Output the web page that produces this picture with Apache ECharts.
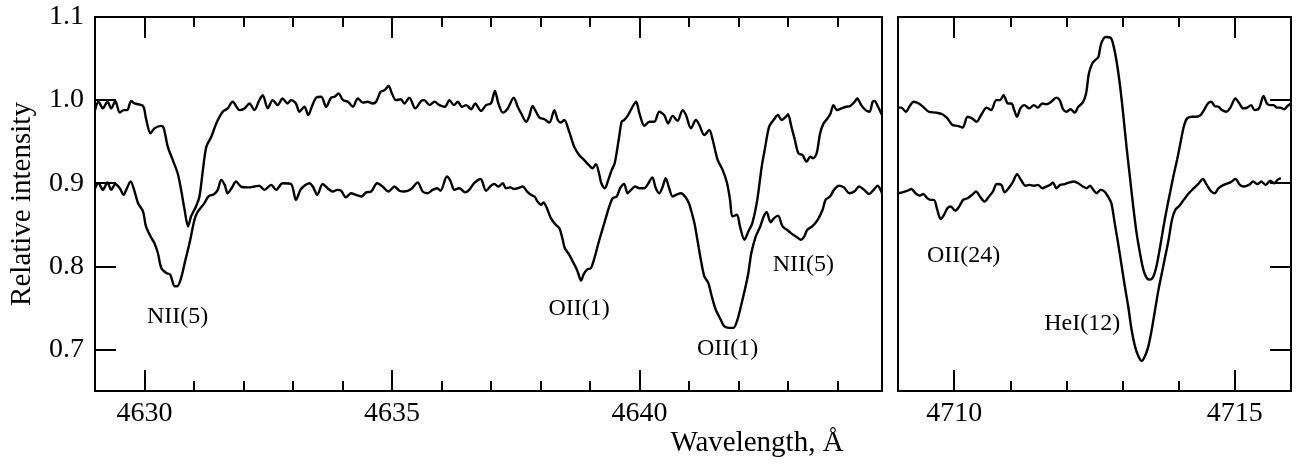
<!DOCTYPE html>
<html><head><meta charset="utf-8">
<script src="https://cdn.jsdelivr.net/npm/echarts@6/dist/echarts.min.js"></script>
<style>html,body{margin:0;padding:0;background:#fff}#c{width:1303px;height:468px}</style>
</head><body><div id="c"></div>
<script>
// ---- data ----
const leftUpper = [
[4629.00,0.988],[4629.07,0.998],[4629.16,0.990],[4629.25,0.998],[4629.33,0.990],[4629.41,0.999],[4629.50,0.985],[4629.58,0.988],[4629.65,0.988],[4629.73,0.999],[4629.80,0.996],[4629.97,0.993],[4630.03,0.978],[4630.12,0.960],[4630.20,0.966],[4630.34,0.969],[4630.39,0.966],[4630.47,0.944],[4630.57,0.928],[4630.67,0.912],[4630.74,0.892],[4630.81,0.868],[4630.88,0.848],[4630.94,0.860],[4631.04,0.872],[4631.11,0.884],[4631.18,0.916],[4631.25,0.944],[4631.35,0.956],[4631.45,0.972],[4631.58,0.986],[4631.68,0.990],[4631.78,0.998],[4631.92,0.988],[4632.02,0.990],[4632.12,0.996],[4632.22,0.988],[4632.32,1.000],[4632.39,1.006],[4632.49,0.990],[4632.59,1.000],[4632.69,0.994],[4632.79,1.002],[4632.89,0.996],
[4632.96,1.000],[4633.06,0.996],[4633.13,0.986],[4633.23,0.992],[4633.31,0.982],[4633.38,0.992],[4633.47,1.003],[4633.57,1.004],[4633.67,0.992],[4633.77,1.003],[4633.84,1.004],[4633.92,1.008],[4634.01,1.000],[4634.11,0.998],[4634.21,0.992],[4634.31,1.002],[4634.41,0.997],[4634.51,0.998],[4634.61,0.996],[4634.68,0.998],[4634.77,1.010],[4634.85,1.012],[4634.93,1.017],[4635.00,1.008],[4635.08,1.000],[4635.18,1.001],[4635.25,0.996],[4635.35,1.003],[4635.47,0.990],[4635.59,0.999],[4635.65,1.000],[4635.76,0.994],[4635.86,0.998],[4635.96,0.994],[4636.07,0.992],[4636.16,1.000],[4636.25,0.994],[4636.33,0.998],[4636.41,0.992],[4636.50,0.994],[4636.60,0.989],[4636.68,0.996],[4636.80,0.987],[4636.90,0.994],
[4637.00,0.996],[4637.08,1.011],[4637.15,0.996],[4637.24,0.985],[4637.34,0.990],[4637.46,1.003],[4637.54,0.992],[4637.61,0.984],[4637.71,0.974],[4637.77,0.980],[4637.84,0.993],[4637.91,0.986],[4637.98,0.979],[4638.08,0.977],[4638.18,0.973],[4638.28,0.988],[4638.35,0.976],[4638.41,0.973],[4638.48,0.976],[4638.58,0.962],[4638.68,0.944],[4638.78,0.934],[4638.88,0.928],[4638.99,0.921],[4639.05,0.918],[4639.12,0.923],[4639.19,0.910],[4639.23,0.900],[4639.30,0.894],[4639.37,0.904],[4639.44,0.916],[4639.50,0.924],[4639.59,0.956],[4639.64,0.974],[4639.69,0.976],[4639.77,0.982],[4639.86,0.992],[4639.93,0.998],[4640.00,0.984],[4640.10,0.969],[4640.20,0.974],[4640.30,0.974],[4640.40,0.986],[4640.50,0.982],[4640.58,0.972],[4640.67,0.981],[4640.77,0.975],[4640.87,0.988],[4640.94,0.982],
[4641.04,0.966],[4641.14,0.976],[4641.21,0.970],[4641.31,0.958],[4641.41,0.964],[4641.48,0.952],[4641.58,0.928],[4641.68,0.916],[4641.77,0.900],[4641.83,0.880],[4641.88,0.860],[4641.97,0.862],[4642.03,0.848],[4642.12,0.832],[4642.20,0.842],[4642.28,0.852],[4642.38,0.880],[4642.47,0.920],[4642.53,0.940],[4642.62,0.968],[4642.71,0.976],[4642.80,0.982],[4642.87,0.976],[4642.96,0.980],[4643.00,0.983],[4643.07,0.968],[4643.14,0.952],[4643.21,0.936],[4643.29,0.934],[4643.38,0.926],[4643.45,0.932],[4643.51,0.930],[4643.58,0.936],[4643.65,0.960],[4643.72,0.972],[4643.80,0.978],[4643.86,0.984],[4643.92,0.994],[4643.99,0.988],[4644.08,0.990],[4644.17,0.992],[4644.26,0.993],[4644.35,0.998],[4644.40,1.002],[4644.48,0.994],[4644.57,0.988],[4644.65,0.986],[4644.71,0.998],[4644.75,0.999],[4644.82,0.992],[4644.90,0.982]
];
const leftLower = [
[4629.00,0.894],[4629.07,0.900],[4629.16,0.892],[4629.25,0.901],[4629.33,0.892],[4629.41,0.899],[4629.50,0.894],[4629.58,0.886],[4629.63,0.892],[4629.72,0.902],[4629.79,0.892],[4629.87,0.876],[4629.97,0.866],[4630.03,0.848],[4630.14,0.834],[4630.20,0.828],[4630.27,0.816],[4630.34,0.798],[4630.44,0.792],[4630.52,0.790],[4630.61,0.776],[4630.66,0.776],[4630.74,0.786],[4630.82,0.806],[4630.91,0.828],[4631.01,0.856],[4631.08,0.866],[4631.21,0.876],[4631.29,0.884],[4631.41,0.887],[4631.48,0.892],[4631.55,0.904],[4631.62,0.898],[4631.68,0.888],[4631.76,0.894],[4631.85,0.902],[4631.95,0.896],[4632.09,0.895],[4632.22,0.896],[4632.32,0.897],[4632.42,0.892],[4632.56,0.898],[4632.66,0.892],[4632.79,0.900],
[4632.96,0.899],[4633.06,0.880],[4633.15,0.892],[4633.23,0.897],[4633.33,0.900],[4633.40,0.896],[4633.49,0.886],[4633.60,0.899],[4633.70,0.894],[4633.80,0.890],[4633.90,0.892],[4633.97,0.891],[4634.07,0.883],[4634.17,0.888],[4634.27,0.886],[4634.38,0.884],[4634.48,0.889],[4634.58,0.890],[4634.70,0.900],[4634.81,0.896],[4634.93,0.890],[4635.05,0.896],[4635.15,0.891],[4635.25,0.890],[4635.39,0.893],[4635.52,0.901],[4635.62,0.890],[4635.72,0.888],[4635.82,0.892],[4635.91,0.894],[4635.98,0.891],[4636.11,0.908],[4636.18,0.903],[4636.26,0.892],[4636.36,0.894],[4636.48,0.889],[4636.56,0.892],[4636.66,0.900],[4636.79,0.905],[4636.90,0.891],
[4637.00,0.897],[4637.07,0.899],[4637.15,0.896],[4637.24,0.900],[4637.30,0.894],[4637.39,0.895],[4637.47,0.893],[4637.55,0.894],[4637.64,0.896],[4637.73,0.890],[4637.81,0.886],[4637.88,0.884],[4637.94,0.878],[4638.01,0.874],[4638.06,0.877],[4638.13,0.870],[4638.21,0.858],[4638.31,0.850],[4638.38,0.846],[4638.45,0.832],[4638.49,0.822],[4638.58,0.814],[4638.65,0.806],[4638.72,0.798],[4638.76,0.792],[4638.82,0.783],[4638.87,0.790],[4638.94,0.796],[4639.02,0.798],[4639.10,0.812],[4639.19,0.832],[4639.29,0.852],[4639.39,0.872],[4639.46,0.882],[4639.54,0.884],[4639.61,0.894],[4639.69,0.899],[4639.76,0.888],[4639.83,0.892],[4639.91,0.896],[4640.00,0.894],[4640.10,0.894],[4640.16,0.898],[4640.26,0.907],[4640.33,0.894],[4640.40,0.888],[4640.47,0.896],[4640.53,0.906],[4640.60,0.894],[4640.67,0.884],[4640.74,0.886],[4640.84,0.888],[4640.92,0.884],[4641.00,0.876],
[4641.04,0.868],[4641.11,0.852],[4641.17,0.832],[4641.24,0.808],[4641.31,0.788],[4641.39,0.780],[4641.46,0.764],[4641.54,0.748],[4641.64,0.736],[4641.71,0.728],[4641.81,0.726],[4641.90,0.726],[4641.98,0.736],[4642.05,0.752],[4642.13,0.772],[4642.20,0.792],[4642.26,0.816],[4642.35,0.836],[4642.44,0.848],[4642.51,0.860],[4642.57,0.865],[4642.65,0.853],[4642.72,0.858],[4642.80,0.861],[4642.89,0.848],[4642.98,0.844],[4643.06,0.840],[4643.16,0.836],[4643.26,0.832],[4643.33,0.836],[4643.39,0.844],[4643.49,0.848],[4643.60,0.856],[4643.70,0.868],[4643.76,0.880],[4643.85,0.884],[4643.93,0.892],[4644.03,0.897],[4644.13,0.895],[4644.24,0.888],[4644.34,0.890],[4644.44,0.896],[4644.54,0.892],[4644.64,0.887],[4644.73,0.892],[4644.81,0.897],[4644.90,0.888]
];
const rightUpper = [
[4709.00,0.991],[4709.06,0.991],[4709.14,0.986],[4709.21,0.993],[4709.28,0.998],[4709.37,0.996],[4709.46,0.991],[4709.55,0.986],[4709.67,0.985],[4709.79,0.983],[4709.88,0.978],[4709.97,0.970],[4710.06,0.969],[4710.15,0.967],[4710.24,0.980],[4710.32,0.978],[4710.40,0.974],[4710.48,0.982],[4710.58,0.991],[4710.66,0.988],[4710.75,1.000],[4710.82,1.000],[4710.88,1.006],[4710.96,0.996],[4711.02,0.996],[4711.07,0.988],[4711.12,0.980],[4711.18,0.990],[4711.25,0.994],[4711.34,0.990],[4711.42,0.994],[4711.49,0.991],[4711.57,0.996],[4711.64,0.995],[4711.73,0.998],[4711.82,1.003],[4711.88,1.000],[4711.94,0.989],[4712.00,0.986],[4712.07,0.989],[4712.15,0.985],[4712.21,0.992],[4712.29,0.997],[4712.35,1.008],[4712.40,1.032],
[4712.46,1.044],[4712.51,1.048],[4712.57,1.052],[4712.61,1.066],[4712.66,1.074],[4712.71,1.076],[4712.79,1.075],[4712.83,1.068],[4712.89,1.048],[4712.95,1.020],[4713.01,0.984],[4713.07,0.944],[4713.13,0.908],[4713.19,0.872],[4713.25,0.840],[4713.31,0.816],[4713.37,0.796],[4713.43,0.786],[4713.49,0.784],[4713.55,0.788],[4713.61,0.802],[4713.67,0.824],[4713.73,0.848],[4713.79,0.870],[4713.85,0.890],[4713.91,0.910],[4713.97,0.928],[4714.03,0.948],[4714.09,0.968],[4714.15,0.978],[4714.24,0.980],[4714.31,0.980],[4714.39,0.982],[4714.45,0.988],[4714.52,0.996],[4714.58,0.998],[4714.64,0.993],[4714.71,0.992],[4714.77,0.988],[4714.85,0.986],[4714.92,0.991],[4715.01,1.002],[4715.07,0.997],[4715.15,0.990],[4715.22,0.991],[4715.29,0.994],[4715.35,0.988],[4715.43,0.990],[4715.51,1.005],[4715.57,0.996],[4715.63,0.994],[4715.69,0.994],[4715.75,0.991],[4715.81,0.991],[4715.88,0.989],[4715.94,0.993],[4716.00,0.996]
];
const rightLower = [
[4709.00,0.888],[4709.08,0.889],[4709.17,0.891],[4709.24,0.893],[4709.31,0.888],[4709.39,0.885],[4709.45,0.887],[4709.52,0.882],[4709.58,0.880],[4709.64,0.880],[4709.70,0.868],[4709.76,0.857],[4709.82,0.862],[4709.88,0.870],[4709.94,0.872],[4710.02,0.867],[4710.09,0.872],[4710.16,0.880],[4710.24,0.882],[4710.32,0.886],[4710.39,0.890],[4710.46,0.884],[4710.54,0.878],[4710.62,0.884],[4710.69,0.890],[4710.76,0.899],[4710.84,0.898],[4710.90,0.889],[4710.97,0.894],[4711.05,0.902],[4711.12,0.911],[4711.19,0.904],[4711.27,0.897],[4711.34,0.898],[4711.42,0.897],[4711.49,0.898],[4711.57,0.894],[4711.64,0.896],[4711.71,0.898],[4711.76,0.901],[4711.82,0.894],[4711.89,0.898],[4711.97,0.899],[4712.06,0.901],[4712.13,0.902],[4712.21,0.900],[4712.29,0.896],[4712.36,0.894],[4712.42,0.897],
[4712.48,0.892],[4712.54,0.888],[4712.61,0.892],[4712.68,0.890],[4712.74,0.884],[4712.80,0.876],[4712.86,0.852],[4712.92,0.828],[4712.98,0.802],[4713.04,0.776],[4713.10,0.752],[4713.16,0.724],[4713.22,0.704],[4713.28,0.692],[4713.34,0.686],[4713.40,0.692],[4713.46,0.704],[4713.52,0.724],[4713.58,0.748],[4713.64,0.772],[4713.70,0.792],[4713.76,0.812],[4713.82,0.832],[4713.88,0.856],[4713.94,0.868],[4714.00,0.872],[4714.09,0.880],[4714.18,0.888],[4714.27,0.894],[4714.36,0.900],[4714.43,0.905],[4714.50,0.898],[4714.58,0.890],[4714.64,0.888],[4714.71,0.894],[4714.80,0.898],[4714.92,0.901],[4715.01,0.905],[4715.09,0.898],[4715.16,0.896],[4715.25,0.898],[4715.33,0.902],[4715.40,0.899],[4715.47,0.902],[4715.55,0.898],[4715.63,0.903],[4715.70,0.900],[4715.76,0.904],[4715.82,0.906]
];
const leftMajorTicks = [4630, 4635, 4640];
const leftMinorTicks = [4629,4630,4631,4632,4633,4634,4635,4636,4637,4638,4639,4640,4641,4642,4643,4644];
const rightMajorTicks = [4710, 4715];
const rightMinorTicks = [4709,4710,4711,4712,4713,4714,4715,4716];
const yTickValues = [0.7, 0.8, 0.9, 1.0, 1.1];
const yRightTicks = [0.7, 0.8, 0.9, 1.0];
const leftNotes = [
  {name:'NII(5)', value:[4630.67, 0.739]},
  {name:'OII(1)', value:[4638.78, 0.749]},
  {name:'OII(1)', value:[4641.78, 0.701]},
  {name:'NII(5)', value:[4643.31, 0.802]}
];
const rightNotes = [
  {name:'OII(24)', value:[4710.17, 0.8125]},
  {name:'HeI(12)', value:[4712.28, 0.731]}
];

// ---- chart ----
const FONT = 'Liberation Serif';
const chart = echarts.init(document.getElementById('c'), null, {renderer:'canvas'});
const tickStyle = {color:'#000', width:2};
function xAx(grid, pos, min, max, ticks, len, labels) {
  return {
    type:'value', gridIndex:grid, position:pos, min:min, max:max,
    axisLine:{show:false}, splitLine:{show:false},
    axisTick:{show:true, inside:true, length:len, customValues:ticks, lineStyle:tickStyle},
    axisLabel: labels ? {show:true, customValues:ticks, color:'#000', fontFamily:FONT, fontSize:28, margin:9,
        formatter:v=>String(Math.round(v))} : {show:false}
  };
}
const noteLabel = {show:true, position:'inside', formatter:p=>p.name, color:'#000', opacity:1,
  textBorderWidth:0, fontFamily:FONT, fontSize:24};
const option = {
  animation:false,
  backgroundColor:'#fff',
  grid:[
    {left:93, top:17, width:789, height:374, show:true, borderColor:'#000', borderWidth:2, containLabel:false},
    {left:898, top:17, width:393, height:374, show:true, borderColor:'#000', borderWidth:2, containLabel:false}
  ],
  xAxis:[
    xAx(0,'bottom',4629,4644.9,leftMajorTicks,21,true),
    xAx(0,'bottom',4629,4644.9,leftMinorTicks,10,false),
    xAx(0,'top',4629,4644.9,leftMajorTicks,21,false),
    xAx(0,'top',4629,4644.9,leftMinorTicks,10,false),
    xAx(1,'bottom',4709,4716,rightMajorTicks,21,true),
    xAx(1,'bottom',4709,4716,rightMinorTicks,10,false),
    xAx(1,'top',4709,4716,rightMajorTicks,21,false),
    xAx(1,'top',4709,4716,rightMinorTicks,10,false)
  ],
  yAxis:[
    {type:'value', gridIndex:0, position:'left', min:0.65, max:1.1,
     axisLine:{show:false}, splitLine:{show:false},
     axisTick:{show:true, inside:true, length:21, customValues:yTickValues, lineStyle:tickStyle},
     axisLabel:{show:true, customValues:yTickValues, color:'#000', fontFamily:FONT, fontSize:28, margin:11,
        formatter:v=>v.toFixed(1)},
     name:'Relative intensity', nameLocation:'middle', nameRotate:90, nameGap:58,
     nameTextStyle:{color:'#000', fontFamily:FONT, fontSize:29}},
    {type:'value', gridIndex:1, position:'right', min:0.65, max:1.1,
     axisLine:{show:false}, splitLine:{show:false},
     axisTick:{show:true, inside:true, length:21, customValues:yRightTicks, lineStyle:tickStyle},
     axisLabel:{show:false}}
  ],
  graphic:[
    {type:'text', x:757, y:443, style:{text:'Wavelength, Å', fill:'#000', font:'29px "Liberation Serif"', textAlign:'center', textVerticalAlign:'middle'}}
  ],
  series:[
    {type:'line', xAxisIndex:0, yAxisIndex:0, data:leftUpper, showSymbol:false, smooth:0.3, clip:true, lineStyle:{color:'#000', width:2.4}},
    {type:'line', xAxisIndex:0, yAxisIndex:0, data:leftLower, showSymbol:false, smooth:0.3, clip:true, lineStyle:{color:'#000', width:2.4}},
    {type:'line', xAxisIndex:4, yAxisIndex:1, data:rightUpper, showSymbol:false, smooth:0.3, clip:true, lineStyle:{color:'#000', width:2.4}},
    {type:'line', xAxisIndex:4, yAxisIndex:1, data:rightLower, showSymbol:false, smooth:0.3, clip:true, lineStyle:{color:'#000', width:2.4}},
    {type:'scatter', xAxisIndex:0, yAxisIndex:0, data:leftNotes, symbolSize:0, itemStyle:{color:'#000', opacity:1},
     label:noteLabel, emphasis:{disabled:true}},
    {type:'scatter', xAxisIndex:4, yAxisIndex:1, data:rightNotes, symbolSize:0, itemStyle:{color:'#000', opacity:1},
     label:noteLabel, emphasis:{disabled:true}}
  ]
};
chart.setOption(option);
</script>
</body></html>
